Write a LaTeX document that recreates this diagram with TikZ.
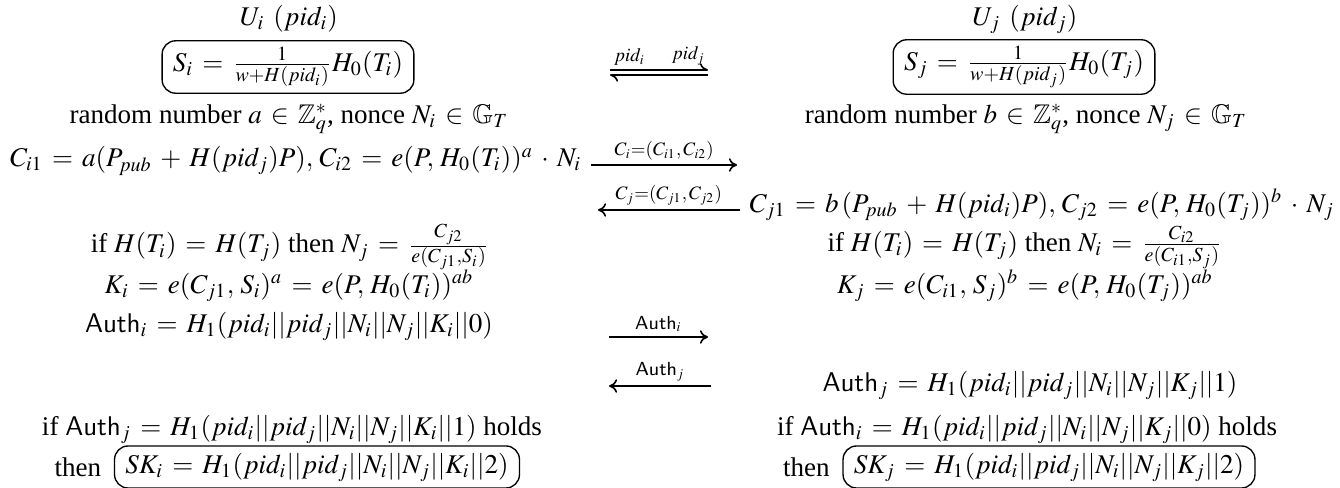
\documentclass[tikz,border=0pt]{standalone}
\usepackage{mathptmx}
\usepackage{amssymb}
\usepackage{fontspec}
\setmainfont{Liberation Serif}
\setsansfont{Liberation Sans}
\usepackage{tikz}
\usetikzlibrary{arrows.meta,positioning}
\newcommand{\Auth}{\mathsf{Auth}}
\medmuskip=5.5mu plus 2mu minus 4mu
\thickmuskip=6mu plus 5mu

\begin{document}
\begin{tikzpicture}[
  x=0.37pt,y=-0.37pt,
  every node/.style={inner sep=1.5pt},
  keybox/.style={draw,rounded corners=5pt,line width=0.5pt,inner xsep=4pt,inner ysep=2.5pt},
  msg/.style={-{To[length=3pt,width=5pt]},line width=0.6pt},
  harp/.style={-{To[harpoon,length=3pt,width=5pt]},line width=0.6pt},
  lbl/.style={above,inner sep=1.5pt,font=\scriptsize}
]
  \useasboundingbox (0,0) rectangle (1340,488);

  % user U_i
  \node (ui) at (289,19) {$U_i\;(pid_i)$};
  \node[keybox] (si) at (288,67) {$S_i=\frac{1}{w+H(pid_i)}H_0(T_i)$};
  \node (rndi) at (289,119) {random number $a\in\mathbb{Z}_q^*$, nonce $N_i\in\mathbb{G}_T$};
  \node[anchor=east] (ci) at (586,161) {$C_{i1}=a(P_{pub}+H(pid_j)P),\,C_{i2}=e(P,\,H_0(T_i))^a\cdot N_i$};
  \node (deci) at (290,247) {if $H(T_i)=H(T_j)$ then $N_j=\frac{C_{j2}}{e(C_{j1},S_i)}$};
  \node (ki) at (289,286) {$K_i=e(C_{j1},\,S_i)^a=e(P,\,H_0(T_i))^{ab}$};
  \node (authi) at (289,326) {$\Auth_i=H_1(pid_i||pid_j||N_i||N_j||K_i||0)$};
  \node (chki) at (292,429) {if $\Auth_j=H_1(pid_i||pid_j||N_i||N_j||K_i||1)$ holds};
  \node[keybox] (ski) at (317,467) {$SK_i=H_1(pid_i||pid_j||N_i||N_j||K_i||2)$};
  \node[left=3pt of ski] (theni) {then};

  % user U_j
  \node (uj) at (1025,19) {$U_j\;(pid_j)$};
  \node[keybox] (sj) at (1024,67) {$S_j=\frac{1}{w+H(pid_j)}H_0(T_j)$};
  \node (rndj) at (1026,119) {random number $b\in\mathbb{Z}_q^*$, nonce $N_j\in\mathbb{G}_T$};
  \node[anchor=west] (cj) at (745,205) {$C_{j1}=b\,(P_{pub}+H(pid_i)P),\,C_{j2}=e(P,\,H_0(T_j))^b\cdot N_j$};
  \node (decj) at (1025,247) {if $H(T_i)=H(T_j)$ then $N_i=\frac{C_{i2}}{e(C_{i1},S_j)}$};
  \node (kj) at (1025,286) {$K_j=e(C_{i1},\,S_j)^b=e(P,\,H_0(T_j))^{ab}$};
  \node (authj) at (1030,385) {$\Auth_j=H_1(pid_i||pid_j||N_i||N_j||K_j||1)$};
  \node (chkj) at (1027,429) {if $\Auth_i=H_1(pid_i||pid_j||N_i||N_j||K_j||0)$ holds};
  \node[keybox] (skj) at (1049,467) {$SK_j=H_1(pid_i||pid_j||N_i||N_j||K_j||2)$};
  \node[left=3pt of skj] (thenj) {then};

  % messages
  \coordinate (pidl) at (610,70);
  \coordinate (pidr) at (708,70);
  \coordinate (pidl2) at (610,75);
  \coordinate (pidr2) at (708,75);
  \coordinate (ciend) at (737,165);
  \coordinate (cjend) at (598,210);
  \coordinate (aul) at (609,337);
  \coordinate (aur) at (708,337);
  \coordinate (aul2) at (609,386);
  \coordinate (aur2) at (711,386);

  \draw[harp] (pidl) -- (pidr) node[lbl,pos=0.2] {$pid_i$} node[lbl,pos=0.8] {$pid_j$};
  \draw[harp] (pidr2) -- (pidl2);
  \draw[msg] ([xshift=2pt]ci.east|-ciend) -- (ciend) node[lbl,midway] {$C_i{=}(C_{i1},C_{i2})$};
  \draw[msg] ([xshift=-2pt]cj.west|-cjend) -- (cjend) node[lbl,midway] {$C_j{=}(C_{j1},C_{j2})$};
  \draw[msg] (aul) -- (aur) node[lbl,midway] {$\Auth_i$};
  \draw[msg] (aur2) -- (aul2) node[lbl,midway] {$\Auth_j$};
\end{tikzpicture}
\end{document}
